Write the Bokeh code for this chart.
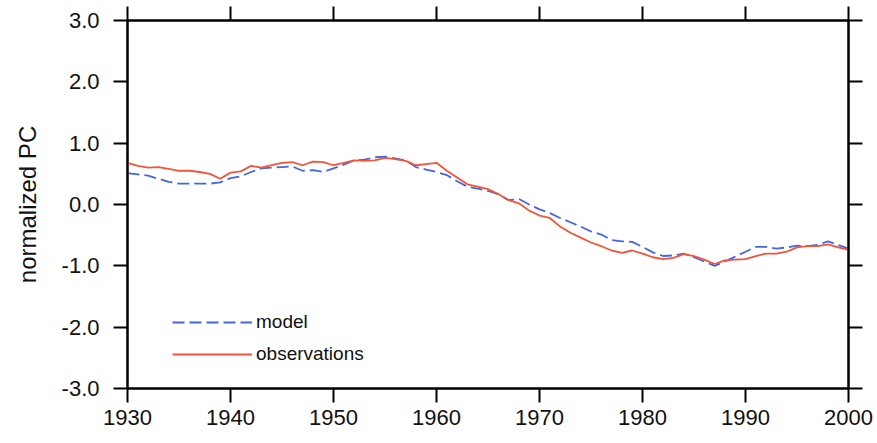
from bokeh.plotting import figure
from bokeh.models import Range1d, LinearAxis, FixedTicker, Legend, LegendItem, CustomJSTickFormatter
from bokeh.embed import file_html
from bokeh.resources import INLINE

years = list(range(1930, 2001))
model = [0.51, 0.49, 0.47, 0.42, 0.37, 0.34, 0.34, 0.34, 0.34, 0.36,
         0.43, 0.46, 0.53, 0.59, 0.60, 0.61, 0.62, 0.55, 0.56, 0.53,
         0.59, 0.65, 0.72, 0.73, 0.77, 0.78, 0.75, 0.72, 0.61, 0.57,
         0.53, 0.48, 0.38, 0.29, 0.26, 0.22, 0.17, 0.07, 0.09, 0.00,
         -0.08, -0.14, -0.22, -0.29, -0.36, -0.44, -0.49, -0.58, -0.60, -0.61,
         -0.69, -0.78, -0.84, -0.83, -0.80, -0.86, -0.93, -1.00, -0.93, -0.85,
         -0.77, -0.69, -0.69, -0.72, -0.70, -0.67, -0.68, -0.66, -0.60, -0.66,
         -0.72]
observations = [0.68, 0.63, 0.60, 0.61, 0.58, 0.55, 0.55, 0.53, 0.50, 0.42,
                0.52, 0.54, 0.63, 0.60, 0.64, 0.68, 0.69, 0.64, 0.70, 0.69,
                0.64, 0.68, 0.72, 0.71, 0.72, 0.76, 0.74, 0.71, 0.64, 0.66,
                0.68, 0.55, 0.44, 0.33, 0.29, 0.25, 0.17, 0.07, 0.02, -0.10,
                -0.18, -0.22, -0.36, -0.46, -0.54, -0.62, -0.68, -0.75, -0.79, -0.75,
                -0.80, -0.86, -0.89, -0.87, -0.81, -0.84, -0.90, -0.97, -0.91, -0.90,
                -0.89, -0.84, -0.80, -0.80, -0.77, -0.70, -0.68, -0.68, -0.65, -0.70,
                -0.74]
x_ticks = [1930, 1940, 1950, 1960, 1970, 1980, 1990, 2000]
y_ticks = [-3.0, -2.0, -1.0, 0.0, 1.0, 2.0, 3.0]

FONT = "Liberation Sans"
TEXT = "#111111"
p = figure(width=877, height=443, output_backend="svg", toolbar_location=None,
           x_range=Range1d(1930, 2000), y_range=Range1d(-3, 3),
           min_border_left=127, min_border_right=29, min_border_top=20, min_border_bottom=55)
p.grid.visible = False
p.outline_line_color = "black"
p.outline_line_width = 2

def style(ax):
    ax.axis_line_width = 2
    ax.major_tick_line_width = 2
    ax.major_tick_out = 14
    ax.major_tick_in = 0
    ax.minor_tick_out = 0
    ax.minor_tick_in = 0
    ax.major_label_text_font = FONT
    ax.major_label_text_font_size = "22px"
    ax.major_label_text_color = TEXT

xa = p.xaxis[0]
xa.ticker = FixedTicker(ticks=x_ticks)
style(xa)
xa.major_label_standoff = 7

ya = p.yaxis[0]
ya.ticker = FixedTicker(ticks=y_ticks)
ya.formatter = CustomJSTickFormatter(code="return tick.toFixed(1);")
style(ya)
ya.major_label_standoff = 14
ya.axis_label = "normalized PC"
ya.axis_label_text_font = FONT
ya.axis_label_text_font_size = "24px"
ya.axis_label_text_font_style = "normal"
ya.axis_label_text_color = TEXT
ya.axis_label_standoff = 18

blank = CustomJSTickFormatter(code="return '';")
top = LinearAxis(ticker=FixedTicker(ticks=x_ticks), formatter=blank)
style(top)
p.add_layout(top, "above")
right = LinearAxis(ticker=FixedTicker(ticks=y_ticks), formatter=blank)
style(right)
p.add_layout(right, "right")

r_model = p.line(years, model, line_color="#4466E0", line_width=1.8, line_dash="12 5")
r_obs = p.line(years, observations, line_color="#F2553C", line_width=1.8)

legend = Legend(items=[LegendItem(label="model", renderers=[r_model]),
                       LegendItem(label="observations", renderers=[r_obs])],
                location=(45, 23), padding=0, margin=0, spacing=10,
                glyph_width=80, glyph_height=20, label_height=20, label_standoff=4,
                label_text_font=FONT, label_text_font_size="19px", label_text_color=TEXT,
                border_line_color=None, background_fill_alpha=0)
p.add_layout(legend, "center")

open("out.html", "w").write(file_html(p, INLINE))
